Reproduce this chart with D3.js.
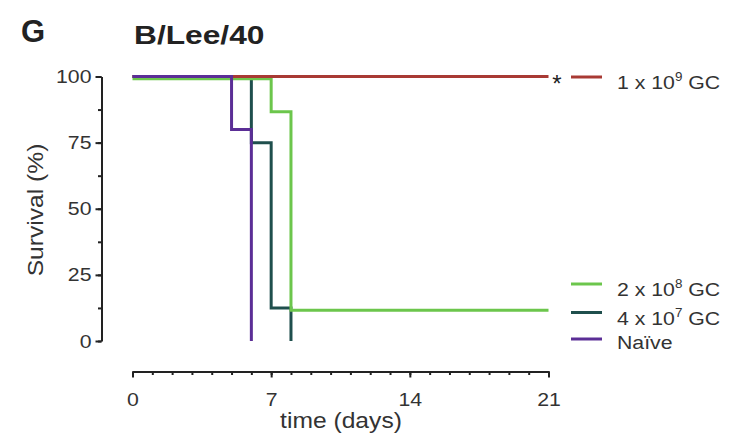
<!DOCTYPE html>
<html>
<head>
<meta charset="utf-8">
<script src="https://cdn.jsdelivr.net/npm/d3@7"></script>
<style>
  html, body { margin: 0; padding: 0; background: #fff; }
  svg { display: block; }
  text { font-family: "Liberation Sans", Arial, Helvetica, sans-serif; }
</style>
</head>
<body>
<svg id="chart" width="741" height="435"></svg>
<script>
// Kaplan–Meier survival after B/Lee/40 challenge, by vaccine dose
const seriesNames = ["1 x 10^9 GC", "2 x 10^8 GC", "4 x 10^7 GC", "Naïve"];
const doseCoef    = ["1", "2", "4", null];
const doseExp     = ["9", "8", "7", null];
const colors      = ["#a83a34", "#6cc64c", "#1f4f4d", "#5b2e96"];

// step points: day at which survival changes, survival (%) from that day on
const days1e9  = [0, 21];
const surv1e9  = [100, 100];
const days2e8  = [0, 7, 8, 21];
const surv2e8  = [100, 87.5, 12.5, 12.5];
const days4e7  = [0, 6, 7, 8];
const surv4e7  = [100, 75, 12.5, 0];
const daysNaive = [0, 5, 6];
const survNaive = [100, 80, 0];

const xTicksMajor = [0, 7, 14, 21];
const yTicksMajor = [0, 25, 50, 75, 100];

const seriesDays = [days1e9, days2e8, days4e7, daysNaive];
const seriesSurv = [surv1e9, surv2e8, surv4e7, survNaive];
// small vertical nudges keep coincident curves distinguishable
const nudge = [0, 2.3, 0, 0];
const drawOrder = [2, 1, 0, 3];
const legendY = [77, 284, 312.5, 339];
const legendBaseShift = [11.5, 11.5, 12.5, 10];

const svg = d3.select("#chart");
const SX = 1.12;
const ink = "#333";

const x = d3.scaleLinear().domain([0, 21]).range([132.5, 548.5]);
const y = d3.scaleLinear().domain([0, 100]).range([341, 76.5]);

function stretchText(sel, sx) {
  sel.each(function () {
    const t = d3.select(this);
    const tx = +t.attr("x") || 0;
    t.attr("x", 0).attr("transform", `translate(${tx},0) scale(${sx},1)`);
  });
}

// panel letter and title
svg.append("text").attr("transform", `translate(21,42) scale(1.0,1)`)
  .attr("font-size", 31).attr("font-weight", "bold").attr("fill", "#222").text("G");
svg.append("text").attr("transform", `translate(134,44) scale(1.22,1)`)
  .attr("font-size", 26).attr("font-weight", "bold").attr("fill", "#222").text("B/Lee/40");

// x axis
const xAxisY = 371.5;
const gx = svg.append("g").attr("transform", `translate(0,${xAxisY})`);
gx.append("g")
  .call(d3.axisBottom(x).tickValues(d3.range(0, 22)).tickSize(3.5).tickFormat("").tickSizeOuter(0))
  .call(g => g.select(".domain").remove());
gx.append("g")
  .call(d3.axisBottom(x).tickValues(xTicksMajor).tickSize(6).tickPadding(15).tickSizeOuter(0))
  .call(g => g.selectAll("text").attr("font-size", 19).attr("fill", ink).attr("font-family", null))
  .call(g => stretchText(g.selectAll("text"), SX));
gx.selectAll("line, path").attr("stroke", "#222").attr("stroke-width", 2);

// y axis
const yAxisX = 101.5;
const gy = svg.append("g").attr("transform", `translate(${yAxisX},0)`);
gy.append("g")
  .call(d3.axisLeft(y).tickValues(d3.range(0, 101, 12.5)).tickSize(3.5).tickFormat("").tickSizeOuter(0))
  .call(g => g.select(".domain").remove());
gy.append("g")
  .call(d3.axisLeft(y).tickValues(yTicksMajor).tickSize(6).tickPadding(4).tickSizeOuter(0))
  .call(g => g.selectAll("text").attr("font-size", 19).attr("fill", ink).attr("font-family", null))
  .call(g => stretchText(g.selectAll("text"), SX));
gy.selectAll("line, path").attr("stroke", "#222").attr("stroke-width", 2);

// axis titles
svg.append("text")
  .attr("transform", `translate(341,428) scale(${SX},1)`)
  .attr("text-anchor", "middle").attr("font-size", 22).attr("fill", ink)
  .text("time (days)");
svg.append("text")
  .attr("transform", `translate(43,210) rotate(-90) scale(${SX},1)`)
  .attr("text-anchor", "middle").attr("font-size", 22).attr("fill", ink)
  .text("Survival (%)");

// survival curves
const line = d3.line().curve(d3.curveStepAfter);
drawOrder.forEach(i => {
  const pts = seriesDays[i].map((d, k) => [x(d), y(seriesSurv[i][k]) + nudge[i]]);
  svg.append("path")
    .attr("d", line(pts))
    .attr("fill", "none")
    .attr("stroke", colors[i])
    .attr("stroke-width", 3)
    .attr("stroke-linejoin", "miter");
});

// significance mark beside the top curve
svg.append("text").attr("transform", `translate(557,92)`)
  .attr("text-anchor", "middle").attr("font-size", 24).attr("fill", "#222").text("*");

// legend
const leg = svg.append("g");
seriesNames.forEach((name, i) => {
  leg.append("line")
    .attr("x1", 571).attr("x2", 602)
    .attr("y1", legendY[i]).attr("y2", legendY[i])
    .attr("stroke", colors[i]).attr("stroke-width", 3);
  const t = leg.append("text")
    .attr("transform", `translate(617,${legendY[i] + legendBaseShift[i]}) scale(${SX},1)`)
    .attr("font-size", 19).attr("fill", ink);
  if (doseCoef[i]) {
    t.append("tspan").text(`${doseCoef[i]} x 10`);
    t.append("tspan").attr("font-size", 12).attr("dy", -8).text(doseExp[i]);
    t.append("tspan").attr("dy", 8).text(" GC");
  } else {
    t.text(name);
  }
});
</script>
</body>
</html>
